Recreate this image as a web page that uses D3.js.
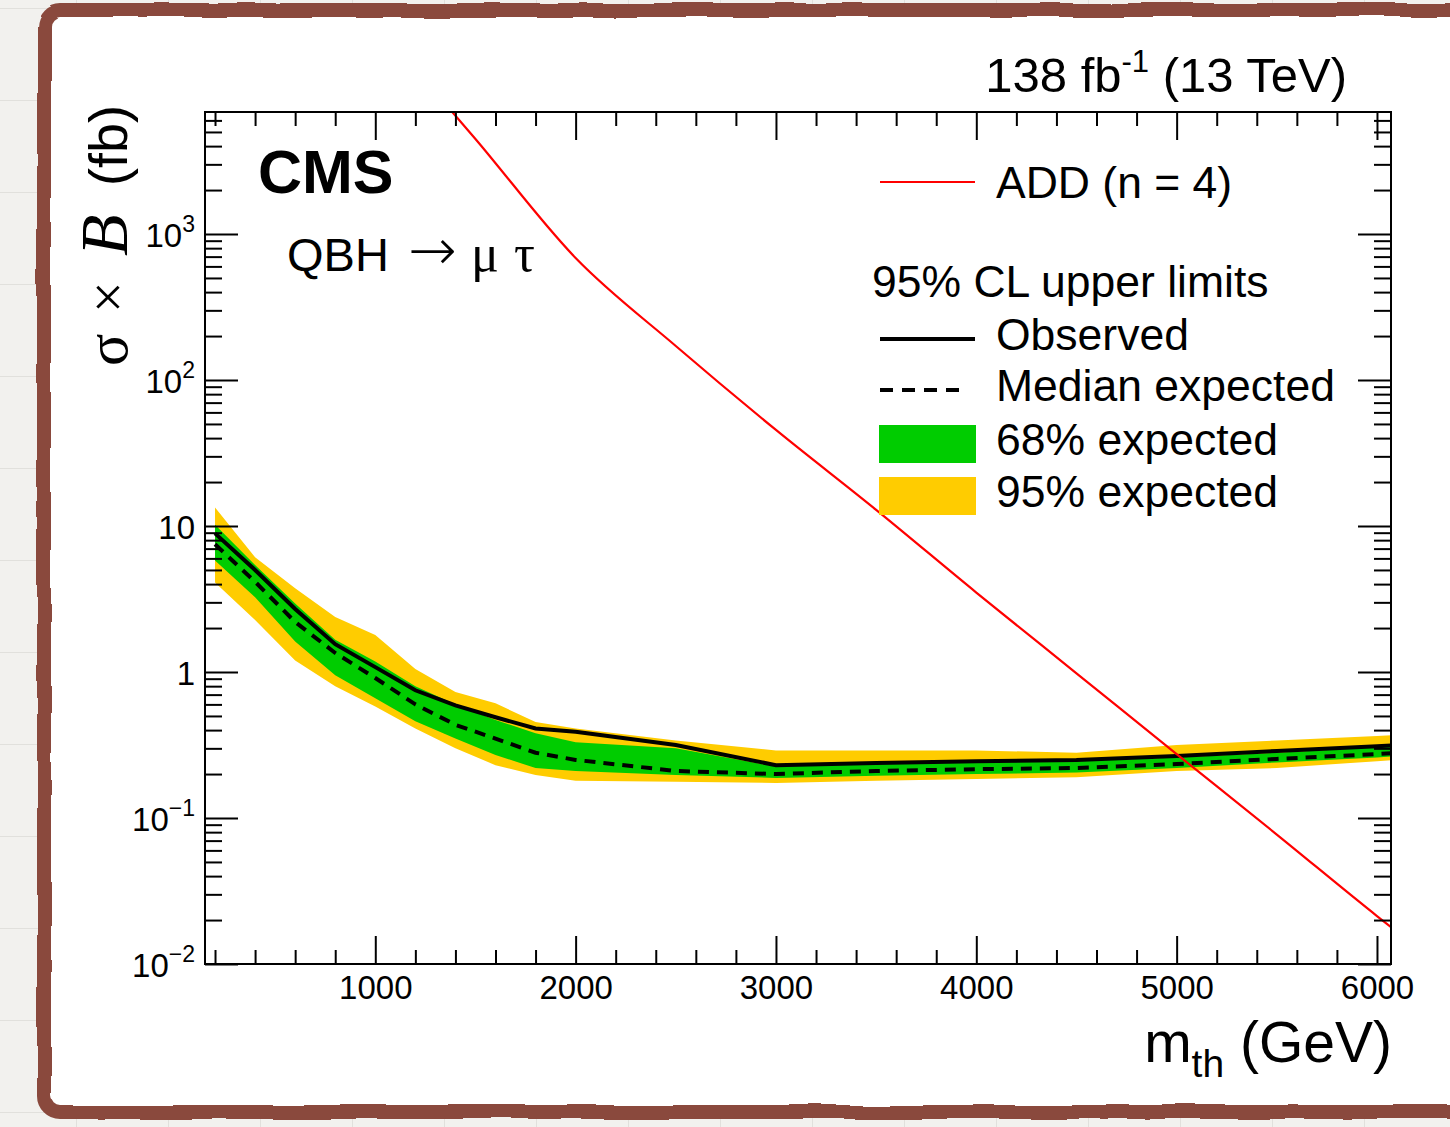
<!DOCTYPE html>
<html>
<head>
<meta charset="utf-8">
<script src="https://cdn.jsdelivr.net/npm/d3@7"></script>
<style>
  body { margin:0; background:#f2f1ee; }
  svg { display:block; font-family:"Liberation Sans", Arial, Helvetica, sans-serif; }
</style>
</head>
<body>
<svg id="chart" width="1450" height="1127"></svg>
<script>
// QBH -> mu tau limits
var mass      = [200, 400, 600, 800, 1000, 1200, 1400, 1600, 1800, 2000, 2500, 3000, 3500, 4000, 4500, 5000, 5500, 6000, 6100];
var observed  = [8.9, 5.0, 2.7, 1.55, 1.08, 0.75, 0.59, 0.49, 0.41, 0.39, 0.316, 0.23, 0.238, 0.245, 0.25, 0.266, 0.288, 0.31, 0.315];
var expected  = [7.5, 4.15, 2.2, 1.35, 0.91, 0.60, 0.435, 0.35, 0.28, 0.25, 0.21, 0.20, 0.21, 0.216, 0.22, 0.234, 0.254, 0.274, 0.28];
var band68_lo = [5.8, 3.25, 1.62, 0.95, 0.66, 0.46, 0.35, 0.27, 0.22, 0.21, 0.197, 0.188, 0.195, 0.20, 0.205, 0.22, 0.24, 0.26, 0.265];
var band68_hi = [10.2, 5.4, 2.95, 1.66, 1.18, 0.80, 0.60, 0.47, 0.38, 0.33, 0.30, 0.225, 0.235, 0.24, 0.245, 0.26, 0.28, 0.305, 0.31];
var band95_lo = [4.1, 2.27, 1.2, 0.8, 0.58, 0.41, 0.30, 0.23, 0.197, 0.18, 0.177, 0.174, 0.18, 0.185, 0.19, 0.21, 0.22, 0.245, 0.25];
var band95_hi = [13.4, 6.1, 3.75, 2.38, 1.79, 1.05, 0.73, 0.61, 0.455, 0.41, 0.34, 0.29, 0.29, 0.29, 0.28, 0.316, 0.34, 0.365, 0.37];

// ADD (n = 4) signal cross section
var add_mass = [1000, 1500, 2000, 2500, 3000, 3500, 4000, 4500, 5000, 5500, 6000, 6100];
var add_xsec = [28000, 4480, 685, 171, 45.5, 12.9, 3.5, 0.98, 0.274, 0.077, 0.0213, 0.0166];

var x_major = [1000, 2000, 3000, 4000, 5000, 6000];
var y_decades = [0.01, 0.1, 1, 10, 100, 1000];
var y_labels = [["10", "\u22122"], ["10", "\u22121"], ["1", ""], ["10", ""], ["10", "2"], ["10", "3"]];

var L = 205, R = 1391, T = 112, B = 964;
var svg = d3.select("#chart");
var defs = svg.append("defs");

// grid paper + hand drawn frame
var pat = defs.append("pattern").attr("id", "paper").attr("patternUnits", "userSpaceOnUse")
  .attr("width", 92).attr("height", 92).attr("patternTransform", "translate(76,8)");
pat.append("rect").attr("width", 92).attr("height", 92).attr("fill", "#f2f1ee");
pat.append("path").attr("d", "M0,0V92M0,0H92").attr("stroke", "#dcdbd7").attr("stroke-width", 1.5);
var f = defs.append("filter").attr("id", "rough");
f.append("feTurbulence").attr("type", "fractalNoise").attr("baseFrequency", 0.015).attr("numOctaves", 2).attr("seed", 4).attr("result", "n");
f.append("feDisplacementMap").attr("in", "SourceGraphic").attr("in2", "n").attr("scale", 6);
defs.append("clipPath").attr("id", "plotclip").append("rect")
  .attr("x", L).attr("y", T).attr("width", R - L).attr("height", B - T);

svg.append("rect").attr("width", 1450).attr("height", 1127).attr("fill", "url(#paper)");
svg.append("rect").attr("x", 44).attr("y", 10).attr("width", 1440).attr("height", 1102).attr("rx", 16).attr("fill", "#fff");
svg.append("rect").attr("x", 44).attr("y", 10).attr("width", 1440).attr("height", 1102).attr("rx", 16)
  .attr("fill", "none").attr("stroke", "#8a4a3e").attr("stroke-width", 14).attr("filter", "url(#rough)");

var x = d3.scaleLinear().domain([150, 6070]).range([L, R]);
var y = d3.scaleLog().domain([0.01, 6850]).range([B, T]);

var rows = mass.map(function(m, i) {
  return {m: m, obs: observed[i], exp: expected[i], lo1: band68_lo[i], hi1: band68_hi[i], lo2: band95_lo[i], hi2: band95_hi[i]};
});
var addRows = add_mass.map(function(m, i) { return {m: m, v: add_xsec[i]}; });

var plot = svg.append("g").attr("clip-path", "url(#plotclip)");
plot.append("path").datum(rows).attr("fill", "#ffcc00")
  .attr("d", d3.area().x(d => x(d.m)).y0(d => y(d.lo2)).y1(d => y(d.hi2)));
plot.append("path").datum(rows).attr("fill", "#00cc00")
  .attr("d", d3.area().x(d => x(d.m)).y0(d => y(d.lo1)).y1(d => y(d.hi1)));
plot.append("path").datum(rows).attr("fill", "none").attr("stroke", "#000").attr("stroke-width", 4)
  .attr("stroke-dasharray", "11,8")
  .attr("d", d3.line().x(d => x(d.m)).y(d => y(d.exp)));
plot.append("path").datum(rows).attr("fill", "none").attr("stroke", "#000").attr("stroke-width", 4)
  .attr("d", d3.line().x(d => x(d.m)).y(d => y(d.obs)));
plot.append("path").datum(addRows).attr("fill", "none").attr("stroke", "#ff0000").attr("stroke-width", 2.2)
  .attr("d", d3.line().curve(d3.curveMonotoneX).x(d => x(d.m)).y(d => y(d.v)));

// ticks, inside on all four sides
var x_minor = d3.range(200, 6070, 200).filter(v => v % 1000 != 0);
var y_minor = [];
y_decades.forEach(function(d) { for (var k = 2; k <= 9; k++) if (d * k < 6850) y_minor.push(d * k); });

function axis(gen, vals, size, tx, ty) {
  var g = svg.append("g").attr("transform", "translate(" + tx + "," + ty + ")")
    .call(gen.tickValues(vals).tickSize(size).tickFormat(""));
  g.select(".domain").remove();
  g.selectAll("line").attr("stroke", "#000").attr("stroke-width", 2);
  g.attr("font-family", null).attr("font-size", 33);
  return g;
}
axis(d3.axisBottom(x), x_minor, -14, 0, B);
axis(d3.axisTop(x), x_minor, -14, 0, T);
axis(d3.axisTop(x), x_major, -28, 0, T);
axis(d3.axisLeft(y), y_minor, -17, L, 0);
axis(d3.axisRight(y), y_minor, -17, R, 0);
axis(d3.axisRight(y), y_decades, -33, R, 0);

var xb = axis(d3.axisBottom(x), x_major, -28, 0, B);
xb.call(d3.axisBottom(x).tickValues(x_major).tickSize(-28).tickPadding(12).tickFormat(d3.format("d")));
xb.select(".domain").remove();
xb.selectAll("line").attr("stroke", "#000").attr("stroke-width", 2);
xb.selectAll("text").attr("fill", "#000");

var yl = axis(d3.axisLeft(y), y_decades, -33, L, 0);
yl.call(d3.axisLeft(y).tickValues(y_decades).tickSize(-33).tickPadding(10).tickFormat(""));
yl.select(".domain").remove();
yl.selectAll("line").attr("stroke", "#000").attr("stroke-width", 2);
yl.selectAll(".tick text").each(function(d, i) {
  var t = d3.select(this).attr("fill", "#000").attr("dy", "0.38em");
  t.append("tspan").text(y_labels[i][0]);
  if (y_labels[i][1]) t.append("tspan").attr("dy", -15).attr("font-size", 23).text(y_labels[i][1]);
});

svg.append("rect").attr("x", L).attr("y", T).attr("width", R - L).attr("height", B - T)
  .attr("fill", "none").attr("stroke", "#000").attr("stroke-width", 2);

// texts
var lumi = svg.append("text").attr("x", 1347).attr("y", 92).attr("text-anchor", "end").attr("font-size", 49);
lumi.append("tspan").text("138 fb");
lumi.append("tspan").attr("dy", -20).attr("font-size", 31).text("-1");
lumi.append("tspan").attr("dy", 20).text(" (13 TeV)");

svg.append("text").attr("x", 258).attr("y", 193).attr("font-size", 61).attr("font-weight", "bold").text("CMS");
var proc = svg.append("g").attr("font-size", 47);
proc.append("text").attr("x", 287).attr("y", 271).text("QBH");
proc.append("text").attr("x", 408).attr("y", 270).attr("font-family", "DejaVu Sans").attr("font-weight", 200).attr("font-size", 58).text("\u2192");
proc.append("text").attr("x", 471).attr("y", 271).attr("font-family", "Liberation Serif, serif").attr("font-size", 52).text("\u03bc");
proc.append("text").attr("x", 514).attr("y", 271).attr("font-family", "Liberation Serif, serif").attr("font-size", 52).text("\u03c4");

// y title, rotated, pieces placed along the axis
var yt = svg.append("g").attr("transform", "translate(127,366) rotate(-90)");
yt.append("text").attr("x", 0).attr("font-size", 60).attr("font-family", "Liberation Serif, serif").text("\u03c3");
yt.append("text").attr("x", 53).attr("font-size", 56).attr("font-family", "Liberation Serif, serif").text("\u00d7");
yt.append("text").attr("x", 110).attr("font-size", 68).attr("font-family", "Liberation Serif, serif").attr("font-style", "italic").text("B");
yt.append("text").attr("x", 180).attr("font-size", 54).text("(fb)");

var xt = svg.append("text").attr("x", 1392).attr("y", 1062).attr("text-anchor", "end").attr("font-size", 57);
xt.append("tspan").text("m");
xt.append("tspan").attr("dy", 15).attr("font-size", 39).text("th");
xt.append("tspan").attr("dy", -15).text(" (GeV)");

// legend
var lg = svg.append("g").attr("font-size", 44.5);
lg.append("line").attr("x1", 880).attr("x2", 975).attr("y1", 182).attr("y2", 182).attr("stroke", "#ff0000").attr("stroke-width", 2.2);
lg.append("text").attr("x", 996).attr("y", 198).text("ADD (n = 4)");
lg.append("text").attr("x", 872).attr("y", 297).text("95% CL upper limits");
lg.append("line").attr("x1", 880).attr("x2", 975).attr("y1", 339).attr("y2", 339).attr("stroke", "#000").attr("stroke-width", 4);
lg.append("text").attr("x", 996).attr("y", 350).text("Observed");
lg.append("line").attr("x1", 880).attr("x2", 968).attr("y1", 390).attr("y2", 390).attr("stroke", "#000").attr("stroke-width", 4).attr("stroke-dasharray", "13,9");
lg.append("text").attr("x", 996).attr("y", 401).text("Median expected");
lg.append("rect").attr("x", 879).attr("y", 425).attr("width", 97).attr("height", 38).attr("fill", "#00cc00");
lg.append("text").attr("x", 996).attr("y", 455).text("68% expected");
lg.append("rect").attr("x", 879).attr("y", 477).attr("width", 97).attr("height", 38).attr("fill", "#ffcc00");
lg.append("text").attr("x", 996).attr("y", 507).text("95% expected");
</script>
</body>
</html>
